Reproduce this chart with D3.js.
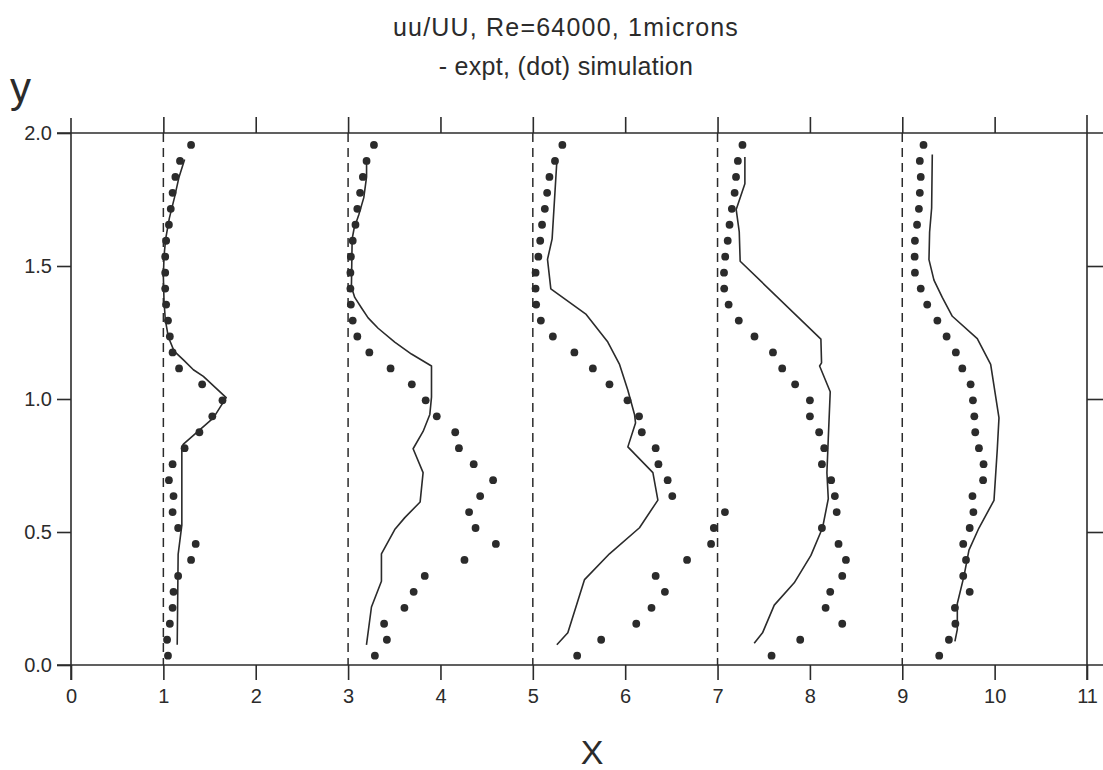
<!DOCTYPE html>
<html>
<head>
<meta charset="utf-8">
<script src="https://cdn.jsdelivr.net/npm/d3@7"></script>
<style>
  html, body { margin: 0; padding: 0; background: #fff; }
  svg { display: block; font-family: "Liberation Sans", Arial, Helvetica, sans-serif; }
</style>
</head>
<body>
<svg id="chart" width="1103" height="770"></svg>
<script>
// Axis ticks
const xTicks = [0, 1, 2, 3, 4, 5, 6, 7, 8, 9, 10, 11];
const xTopTicks = [1, 2, 3, 4, 5, 6, 7, 8, 9, 10];
const yTicks = [0, 0.5, 1.0, 1.5, 2.0];
const yRightTicks = [0.5, 1.0, 1.5];
const yTickLabels = ["0.0", "0.5", "1.0", "1.5", "2.0"];

// Station origins (dashed reference lines)
const stations = [1, 3, 5, 7, 9];

// Simulation sample heights (top to bottom)
const simHeights = [1.955, 1.895, 1.835, 1.775, 1.715, 1.655, 1.595, 1.535, 1.475, 1.415,
  1.355, 1.295, 1.235, 1.175, 1.115, 1.055, 0.995, 0.935, 0.875, 0.815, 0.755, 0.695,
  0.635, 0.575, 0.515, 0.455, 0.395, 0.335, 0.275, 0.215, 0.155, 0.095, 0.035];

// Simulation values (x position = station + uu/UU), same order as simHeights
const sim1 = [1.30, 1.18, 1.13, 1.10, 1.08, 1.06, 1.03, 1.02, 1.02, 1.02, 1.03, 1.05, 1.07,
  1.10, 1.17, 1.42, 1.64, 1.53, 1.39, 1.23, 1.10, 1.06, 1.11, 1.10, 1.16, 1.35, 1.30,
  1.16, 1.11, 1.10, 1.07, 1.04, 1.05];
const sim2 = [3.28, 3.20, 3.16, 3.13, 3.10, 3.08, 3.05, 3.03, 3.025, 3.025, 3.03, 3.05, 3.10,
  3.23, 3.46, 3.69, 3.84, 3.96, 4.16, 4.20, 4.36, 4.57, 4.43, 4.31, 4.38, 4.60, 4.26,
  3.83, 3.71, 3.61, 3.39, 3.42, 3.29];
const sim3 = [5.32, 5.24, 5.18, 5.155, 5.13, 5.10, 5.08, 5.06, 5.03, 5.03, 5.036, 5.087, 5.217,
  5.45, 5.65, 5.83, 6.025, 6.15, 6.18, 6.33, 6.36, 6.46, 6.51, 7.08, 6.96, 6.93, 6.67,
  6.33, 6.43, 6.285, 6.12, 5.74, 5.48];
const sim4 = [7.27, 7.22, 7.20, 7.185, 7.155, 7.13, 7.11, 7.083, 7.07, 7.072, 7.12, 7.23, 7.40,
  7.60, 7.70, 7.84, 8.00, 8.00, 8.10, 8.155, 8.13, 8.23, 8.27, 8.29, 8.13, 8.31, 8.39,
  8.35, 8.22, 8.17, 8.35, 7.895, 7.585];
const sim5 = [9.23, 9.19, 9.20, 9.19, 9.18, 9.16, 9.137, 9.134, 9.137, 9.20, 9.27, 9.38, 9.48,
  9.58, 9.65, 9.74, 9.765, 9.78, 9.79, 9.83, 9.88, 9.875, 9.76, 9.77, 9.73, 9.66, 9.69,
  9.66, 9.73, 9.57, 9.575, 9.505, 9.40];

// Experimental profiles as [x, y] pairs
const expt1 = [[1.23, 1.90], [1.17, 1.835], [1.12, 1.757], [1.065, 1.68], [1.025, 1.602],
  [1.007, 1.537], [1.0, 1.46], [1.007, 1.369], [1.021, 1.298], [1.054, 1.233], [1.116, 1.18],
  [1.217, 1.147], [1.325, 1.11], [1.433, 1.085], [1.68, 1.005], [1.542, 0.929], [1.217, 0.83],
  [1.20, 0.82], [1.20, 0.526], [1.16, 0.416], [1.15, 0.076]];
const expt2 = [[3.20, 1.90], [3.20, 1.835], [3.17, 1.757], [3.116, 1.693], [3.065, 1.641],
  [3.044, 1.602], [3.036, 1.421], [3.072, 1.382], [3.144, 1.343], [3.217, 1.305], [3.325, 1.266],
  [3.505, 1.214], [3.686, 1.169], [3.903, 1.124], [3.903, 1.007], [3.885, 0.942], [3.812, 0.878],
  [3.704, 0.813], [3.812, 0.723], [3.78, 0.613], [3.614, 0.554], [3.505, 0.509], [3.361, 0.418],
  [3.361, 0.315], [3.253, 0.218], [3.199, 0.076]];
const expt3 = [[5.26, 1.893], [5.209, 1.602], [5.159, 1.525], [5.195, 1.414], [5.578, 1.318],
  [5.812, 1.214], [5.939, 1.13], [6.029, 1.033], [6.101, 0.942], [6.112, 0.91], [6.029, 0.82],
  [6.30, 0.723], [6.354, 0.62], [6.155, 0.516], [5.83, 0.418], [5.56, 0.321], [5.379, 0.121],
  [5.26, 0.076]];
const expt4 = [[7.296, 1.91], [7.296, 1.809], [7.202, 1.712], [7.235, 1.628], [7.245, 1.518],
  [8.119, 1.225], [8.126, 1.136], [8.105, 1.124], [8.22, 1.027], [8.199, 0.852], [8.184, 0.723],
  [8.199, 0.625], [8.137, 0.516], [8.011, 0.412], [7.83, 0.309], [7.614, 0.225], [7.487, 0.121],
  [7.397, 0.082]];
const expt5 = [[9.325, 1.919], [9.318, 1.718], [9.296, 1.628], [9.289, 1.524], [9.343, 1.447],
  [9.433, 1.382], [9.542, 1.311], [9.812, 1.227], [9.957, 1.13], [10.047, 0.929], [10.029, 0.813],
  [9.993, 0.619], [9.83, 0.515], [9.722, 0.432], [9.668, 0.334], [9.596, 0.231], [9.596, 0.134],
  [9.57, 0.089]];

const simSeries = [sim1, sim2, sim3, sim4, sim5];
const exptSeries = [expt1, expt2, expt3, expt4, expt5];

const titleLines = ["uu/UU, Re=64000, 1microns", "- expt, (dot) simulation"];

// ---- drawing ----
const ink = "#2b2b2b";
const svg = d3.select("#chart");
svg.append("rect").attr("width", 1103).attr("height", 770).attr("fill", "#fff");

const x = d3.scaleLinear().domain([0, 11]).range([71, 1087]);
const y = d3.scaleLinear().domain([0, 2]).range([665, 133]);

const g = svg.append("g");

// frame lines with short overhangs
const ext = 15;
const frame = g.append("g").attr("stroke", ink).attr("stroke-width", 1.6).attr("fill", "none");
frame.append("line").attr("x1", x(0)).attr("x2", x(0)).attr("y1", y(2) - ext).attr("y2", y(0) + ext);
frame.append("line").attr("x1", x(11)).attr("x2", x(11)).attr("y1", y(2) - ext - 3).attr("y2", y(0) + ext);
frame.append("line").attr("x1", x(0) - 14).attr("x2", x(11) + 16).attr("y1", y(0)).attr("y2", y(0));
frame.append("line").attr("x1", x(0) - 14).attr("x2", x(11) + 16).attr("y1", y(2)).attr("y2", y(2));

// bottom axis
const axBottom = g.append("g").attr("transform", `translate(0,${y(0)})`)
  .call(d3.axisBottom(x).tickValues(xTicks).tickFormat(d3.format("d")).tickSize(15).tickPadding(9));
// top axis (ticks only)
const axTop = g.append("g").attr("transform", `translate(0,${y(2)})`)
  .call(d3.axisTop(x).tickValues(xTopTicks).tickFormat("").tickSize(16));
// left axis
const axLeft = g.append("g").attr("transform", `translate(${x(0)},0)`)
  .call(d3.axisLeft(y).tickValues(yTicks).tickFormat((d, i) => yTickLabels[i]).tickSize(14).tickPadding(5));
// right axis (ticks only)
const axRight = g.append("g").attr("transform", `translate(${x(11)},0)`)
  .call(d3.axisRight(y).tickValues(yRightTicks).tickFormat("").tickSize(16));

[axBottom, axTop, axLeft, axRight].forEach(a => {
  a.select(".domain").remove();
  a.selectAll(".tick line").attr("stroke", ink).attr("stroke-width", 1.6);
  a.selectAll(".tick text").attr("fill", ink).style("font-size", "20px")
    .style("font-family", "'Liberation Sans', Arial, sans-serif");
});

// dashed station lines
g.append("g").selectAll("line").data(stations).join("line")
  .attr("x1", d => x(d)).attr("x2", d => x(d))
  .attr("y1", y(2)).attr("y2", y(0))
  .attr("stroke", ink).attr("stroke-width", 1.5).attr("stroke-dasharray", "9,6");

// experimental profiles (solid)
const line = d3.line().x(d => x(d[0])).y(d => y(d[1]));
g.append("g").selectAll("path").data(exptSeries).join("path")
  .attr("d", line).attr("fill", "none").attr("stroke", ink).attr("stroke-width", 1.6)
  .attr("stroke-linejoin", "round");

// simulation points (dots)
const dots = simSeries.flatMap(s => s.map((v, i) => [v, simHeights[i]]));
g.append("g").selectAll("circle").data(dots).join("circle")
  .attr("cx", d => x(d[0])).attr("cy", d => y(d[1])).attr("r", 3.9).attr("fill", ink);

// titles
svg.append("g").selectAll("text").data(titleLines).join("text")
  .attr("x", 566).attr("y", (d, i) => 36 + i * 39)
  .attr("text-anchor", "middle").attr("fill", ink)
  .style("font-size", "25px")
  .style("letter-spacing", (d, i) => i === 0 ? "1.2px" : "0.3px")
  .text(d => d);

// axis names
svg.append("text").attr("x", 10).attr("y", 102).attr("fill", ink)
  .style("font-size", "42px").text("y");
svg.append("text").attr("x", 592).attr("y", 764).attr("text-anchor", "middle").attr("fill", ink)
  .style("font-size", "34px").text("X");
</script>
</body>
</html>
